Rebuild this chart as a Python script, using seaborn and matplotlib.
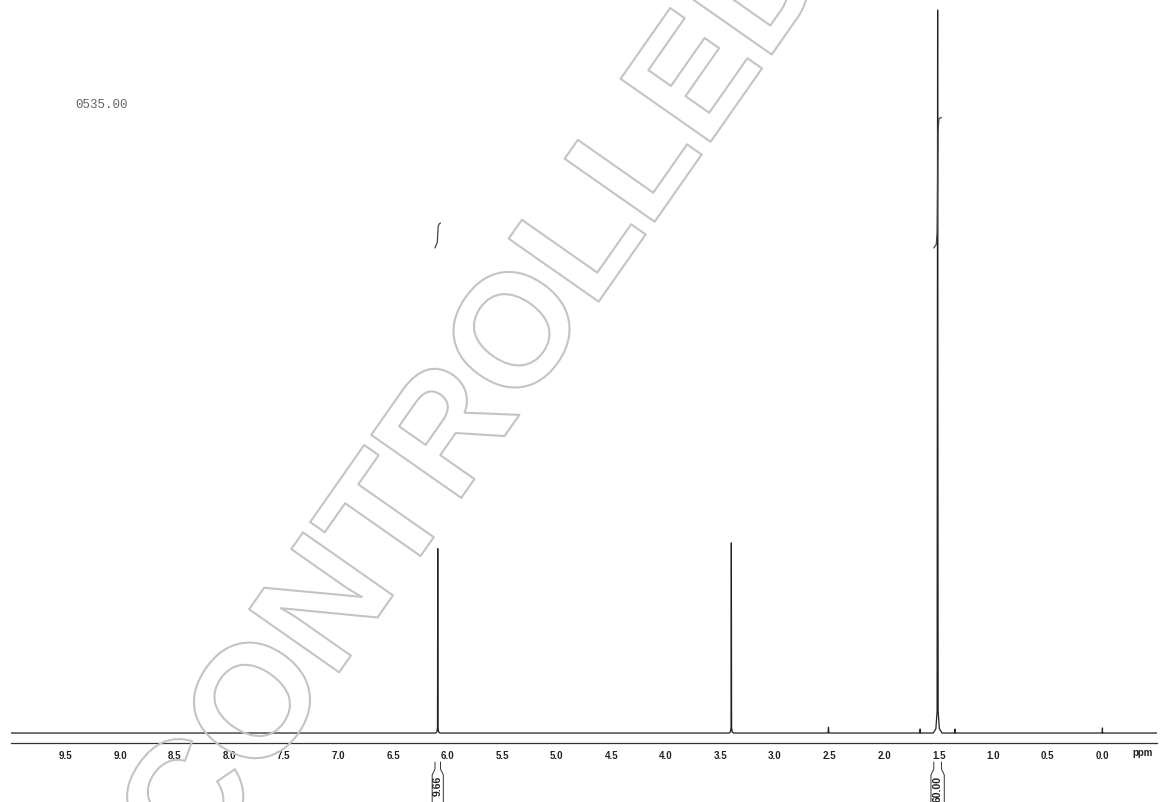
import matplotlib
matplotlib.use("Agg")
import matplotlib.pyplot as plt
import matplotlib.patheffects as pe
from matplotlib.ticker import FixedLocator, MultipleLocator
import seaborn as sns
import pandas as pd

# peak list (ppm, height relative to the tallest = 100)
peak_ppm = [6.09, 3.40, 2.51, 1.67, 1.51, 1.35, 0.00]
peak_height = [25.5, 26.3, 0.8, 0.55, 100.0, 0.55, 0.7]
peak_foot = [0.02, 0.02, 0.03, 0.01, 0.04, 0.01, 0.01]

# integrals (region limits in ppm and value)
int_center = [6.09, 1.51]
int_hi = [6.115, 1.545]
int_lo = [6.065, 1.475]
int_value = [9.66, 60.00]
int_text = ["9.66", "60.00"]
int_base = 67.6     # level where the integral curves start
int_scale = 0.29    # height units per integral unit

tick_major = [9.5, 9.0, 8.5, 8.0, 7.5, 7.0, 6.5, 6.0, 5.5, 5.0,
              4.5, 4.0, 3.5, 3.0, 2.5, 2.0, 1.5, 1.0, 0.5, 0.0]
tick_labels = ["9.5", "9.0", "8.5", "8.0", "7.5", "7.0", "6.5", "6.0", "5.5", "5.0",
               "4.5", "4.0", "3.5", "3.0", "2.5", "2.0", "1.5", "1.0", "0.5", "0.0"]
ppm_range = (10.0, -0.5)
header_text = "0535.00"
watermark = "CONTROLLED"

# build the spectrum trace from the peak list
ppm = [ppm_range[0]]
inten = [0.0]
for p, h, w in sorted(zip(peak_ppm, peak_height, peak_foot), reverse=True):
    ppm += [p + w, p + w * 0.4, p + w * 0.12, p, p - w * 0.12, p - w * 0.4, p - w]
    inten += [0.0, h * 0.006, h * 0.03, h, h * 0.03, h * 0.006, 0.0]
ppm.append(ppm_range[1])
inten.append(0.0)
spec = pd.DataFrame({"ppm": ppm, "intensity": inten})

sns.set_style("white")
plt.rcParams["font.family"] = ["Liberation Sans", "DejaVu Sans"]

fig = plt.figure(figsize=(11.62, 8.02), dpi=100)
ax = fig.add_axes([11 / 1162, 59 / 802, 1146 / 1162, 743 / 802])

sns.lineplot(data=spec, x="ppm", y="intensity", sort=False, estimator=None,
             color="#222222", linewidth=0.9, ax=ax)

# integral curves
for c, hi, lo, v in zip(int_center, int_hi, int_lo, int_value):
    dh = v * int_scale
    icurve = pd.DataFrame({
        "ppm": [hi, c + 0.012, c + 0.004, c, c - 0.004, c - 0.012, lo],
        "level": [int_base - 0.5, int_base, int_base + 0.1 * dh, int_base + 0.5 * dh,
                  int_base + 0.9 * dh, int_base + dh, int_base + dh + 0.15],
    })
    sns.lineplot(data=icurve, x="ppm", y="level", sort=False, estimator=None,
                 color="#444444", linewidth=0.9, ax=ax)

ax.set_xlim(*ppm_range)
ax.set_ylim(-1.38, 101.4)
ax.set_yticks([])
ax.set_xlabel("")
ax.set_ylabel("")
sns.despine(ax=ax, left=True, top=True, right=True)
ax.spines["bottom"].set_color("#333333")
ax.spines["bottom"].set_linewidth(0.9)

ax.xaxis.set_major_locator(FixedLocator(tick_major))
ax.set_xticklabels(tick_labels)
ax.xaxis.set_minor_locator(MultipleLocator(0.1))
ax.tick_params(axis="x", which="major", direction="out", length=3, width=0.8,
               pad=2.5, labelsize=7, colors="#222222")
ax.tick_params(axis="x", which="minor", direction="out", length=2, width=0.6,
               colors="#444444")
for lbl in ax.get_xticklabels():
    lbl.set_fontweight("bold")

xt = ax.get_xaxis_transform()
ax.text(-0.37, -0.0135, "ppm", transform=xt, ha="center", va="center",
        fontsize=7, fontweight="bold", color="#222222")

# integral brackets and values under the axis
d = 0.026
for hi, lo, txt in zip(int_hi, int_lo, int_text):
    for x0, s in ((hi, 1), (lo, -1)):
        ax.plot([x0, x0, x0 + s * d, x0 + s * d], [-0.0256, -0.035, -0.043, -0.1],
                transform=xt, clip_on=False, color="#333333", linewidth=0.7)
    ax.text((hi + lo) / 2, -0.044, txt, transform=xt, rotation=90, ha="center",
            va="top", fontsize=7.5, fontweight="bold", color="#222222")

fig.text(75 / 1162, 1 - 105 / 802, header_text, ha="left", va="center",
         family=["Liberation Mono", "DejaVu Sans Mono"], fontsize=9, color="#666666")

fig.text(0.4127, 0.502, watermark, rotation=55, rotation_mode="anchor",
         ha="center", va="center", fontsize=115, fontweight="bold",
         color=(1, 1, 1, 0),
         path_effects=[pe.Stroke(linewidth=1.5, foreground="#c4c4c4")])

fig.savefig("out.png", dpi=100)
